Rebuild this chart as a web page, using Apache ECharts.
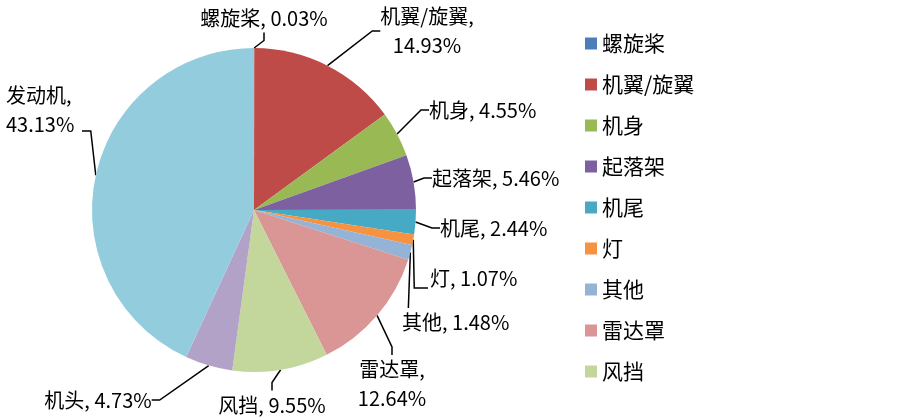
<!DOCTYPE html>
<html>
<head>
<meta charset="utf-8">
<script src="https://cdn.jsdelivr.net/npm/echarts@6/dist/echarts.min.js"></script>
<style>
  html, body { margin: 0; padding: 0; background: #fff; }
  #main { width: 900px; height: 419px; }
</style>
</head>
<body>
<div id="main"></div>
<script>
// 数据
const names = ['螺旋桨', '机翼/旋翼', '机身', '起落架', '机尾', '灯', '其他', '雷达罩', '风挡', '机头', '发动机'];
const values = [0.03, 14.93, 4.55, 5.46, 2.44, 1.07, 1.48, 12.64, 9.55, 4.73, 43.13];
const colors = ['#4a7ebb', '#be4b48', '#98b954', '#7d60a0', '#46aac5', '#f69240', '#95b3d7', '#d99694', '#c3d69b', '#b3a2c7', '#93cddd'];
// 图例只显示前9项
const legendNames = names.slice(0, 9);

// 标签位置 (x, y, 对齐)
const labelPos = {
  '螺旋桨': [264, 18, 'center'],
  '机翼/旋翼': [427, 31, 'center'],
  '机身': [429, 110, 'left'],
  '起落架': [432, 178, 'left'],
  '机尾': [440, 228, 'left'],
  '灯': [430, 278, 'left'],
  '其他': [402, 322, 'left'],
  '雷达罩': [392, 384, 'center'],
  '风挡': [272, 405, 'center'],
  '机头': [98, 400, 'center'],
  '发动机': [6, 110, 'left']
};
const twoLine = ['机翼/旋翼', '雷达罩', '发动机'];

const myChart = echarts.init(document.getElementById('main'));
const option = {
  animation: false,
  legend: {
    orient: 'vertical',
    left: 580,
    top: 28,
    data: legendNames,
    icon: 'rect',
    itemWidth: 12,
    itemHeight: 12,
    itemGap: 20,
    textStyle: { fontSize: 21, color: '#000', fontFamily: 'Noto Sans CJK SC' }
  },
  series: [{
    type: 'pie',
    center: [254, 210],
    radius: 162,
    startAngle: 90,
    clockwise: true,
    data: names.map((n, i) => ({ name: n, value: values[i], itemStyle: { color: colors[i] } })),
    label: {
      show: true,
      fontSize: 20,
      lineHeight: 29,
      color: '#000',
      overflow: 'none',
      fontFamily: 'Noto Sans CJK SC',
      formatter: (p) => twoLine.includes(p.name) ? p.name + ',\n' + p.value.toFixed(2) + '%' : p.name + ', ' + p.value.toFixed(2) + '%'
    },
    labelLine: {
      show: true,
      length: 8,
      length2: 8,
      lineStyle: { color: '#000', width: 1.5 }
    },
    labelLayout: (params) => {
      const name = names[params.dataIndex];
      const pos = labelPos[name];
      const out = { x: pos[0], y: pos[1], align: pos[2], verticalAlign: 'middle' };
      const p0 = params.labelLinePoints && params.labelLinePoints[0];
      if (!p0) return out;
      // 几条引导线做成折线, 同原图
      if (name === '其他') {
        out.labelLinePoints = [p0, [p0[0] - 2, pos[1] - 14]];
      } else if (name === '灯') {
        out.labelLinePoints = [p0, [p0[0] + 1, pos[1] + 10], [pos[0] - 2, pos[1] + 10]];
      } else if (name === '发动机') {
        out.labelLinePoints = [p0, [p0[0] - 5, pos[1] + 21], [pos[0] + 76, pos[1] + 21]];
      }
      return out;
    }
  }]
};
myChart.setOption(option);
</script>
</body>
</html>
